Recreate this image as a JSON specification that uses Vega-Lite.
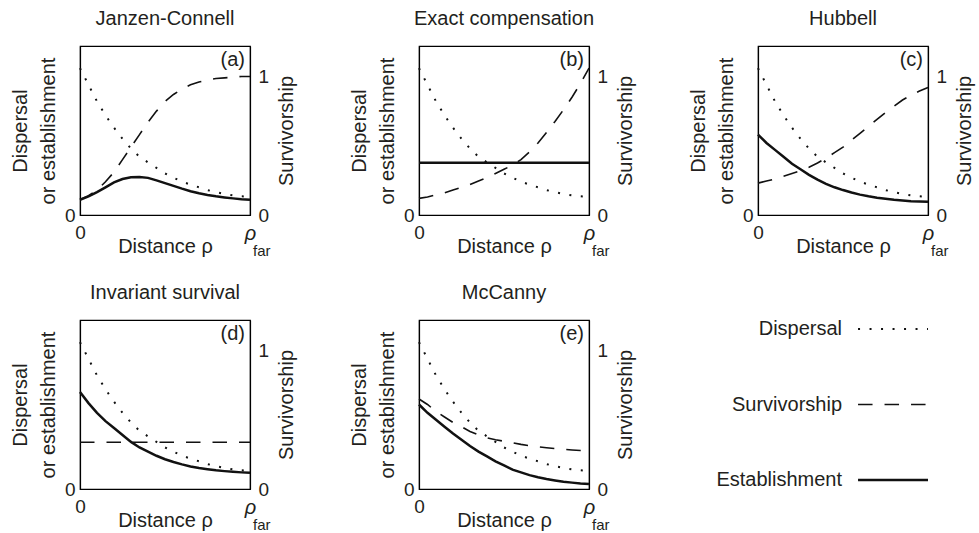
{
  "$schema": "https://vega.github.io/schema/vega-lite/v6.json",
  "background": "white",
  "padding": {"left": 9, "top": 8, "right": 0, "bottom": 0},
  "datasets": {
    "disp": [
      {"x": 0, "y": 1.06}, {"x": 0.05, "y": 0.94}, {"x": 0.1, "y": 0.82}, {"x": 0.15, "y": 0.72}, {"x": 0.2, "y": 0.63},
      {"x": 0.25, "y": 0.55}, {"x": 0.3, "y": 0.48}, {"x": 0.35, "y": 0.42}, {"x": 0.4, "y": 0.38}, {"x": 0.45, "y": 0.34},
      {"x": 0.5, "y": 0.30}, {"x": 0.55, "y": 0.27}, {"x": 0.6, "y": 0.24}, {"x": 0.65, "y": 0.22}, {"x": 0.7, "y": 0.20},
      {"x": 0.75, "y": 0.18}, {"x": 0.8, "y": 0.165}, {"x": 0.85, "y": 0.152}, {"x": 0.9, "y": 0.142}, {"x": 0.95, "y": 0.135},
      {"x": 1, "y": 0.13}
    ],
    "curves": [
      {"p": "a", "s": "S", "x": 0, "y": 0.11}, {"p": "a", "s": "S", "x": 0.05, "y": 0.14}, {"p": "a", "s": "S", "x": 0.1, "y": 0.18},
      {"p": "a", "s": "S", "x": 0.15, "y": 0.24}, {"p": "a", "s": "S", "x": 0.2, "y": 0.31}, {"p": "a", "s": "S", "x": 0.25, "y": 0.40},
      {"p": "a", "s": "S", "x": 0.3, "y": 0.49}, {"p": "a", "s": "S", "x": 0.35, "y": 0.58}, {"p": "a", "s": "S", "x": 0.4, "y": 0.67},
      {"p": "a", "s": "S", "x": 0.45, "y": 0.75}, {"p": "a", "s": "S", "x": 0.5, "y": 0.82}, {"p": "a", "s": "S", "x": 0.55, "y": 0.87},
      {"p": "a", "s": "S", "x": 0.6, "y": 0.91}, {"p": "a", "s": "S", "x": 0.65, "y": 0.94}, {"p": "a", "s": "S", "x": 0.7, "y": 0.96},
      {"p": "a", "s": "S", "x": 0.75, "y": 0.975}, {"p": "a", "s": "S", "x": 0.8, "y": 0.985}, {"p": "a", "s": "S", "x": 0.85, "y": 0.99},
      {"p": "a", "s": "S", "x": 0.9, "y": 0.995}, {"p": "a", "s": "S", "x": 0.95, "y": 1.0}, {"p": "a", "s": "S", "x": 1, "y": 1.0},
      {"p": "a", "s": "E", "x": 0, "y": 0.11}, {"p": "a", "s": "E", "x": 0.05, "y": 0.135}, {"p": "a", "s": "E", "x": 0.1, "y": 0.165},
      {"p": "a", "s": "E", "x": 0.15, "y": 0.2}, {"p": "a", "s": "E", "x": 0.2, "y": 0.235}, {"p": "a", "s": "E", "x": 0.25, "y": 0.26},
      {"p": "a", "s": "E", "x": 0.3, "y": 0.272}, {"p": "a", "s": "E", "x": 0.35, "y": 0.275}, {"p": "a", "s": "E", "x": 0.4, "y": 0.268},
      {"p": "a", "s": "E", "x": 0.45, "y": 0.25}, {"p": "a", "s": "E", "x": 0.5, "y": 0.23}, {"p": "a", "s": "E", "x": 0.55, "y": 0.21},
      {"p": "a", "s": "E", "x": 0.6, "y": 0.19}, {"p": "a", "s": "E", "x": 0.65, "y": 0.172}, {"p": "a", "s": "E", "x": 0.7, "y": 0.157},
      {"p": "a", "s": "E", "x": 0.75, "y": 0.145}, {"p": "a", "s": "E", "x": 0.8, "y": 0.135}, {"p": "a", "s": "E", "x": 0.85, "y": 0.127},
      {"p": "a", "s": "E", "x": 0.9, "y": 0.12}, {"p": "a", "s": "E", "x": 0.95, "y": 0.114}, {"p": "a", "s": "E", "x": 1, "y": 0.11},

      {"p": "b", "s": "S", "x": 0, "y": 0.12}, {"p": "b", "s": "S", "x": 0.05, "y": 0.13}, {"p": "b", "s": "S", "x": 0.1, "y": 0.145},
      {"p": "b", "s": "S", "x": 0.15, "y": 0.16}, {"p": "b", "s": "S", "x": 0.2, "y": 0.18}, {"p": "b", "s": "S", "x": 0.25, "y": 0.2},
      {"p": "b", "s": "S", "x": 0.3, "y": 0.22}, {"p": "b", "s": "S", "x": 0.35, "y": 0.245}, {"p": "b", "s": "S", "x": 0.4, "y": 0.27},
      {"p": "b", "s": "S", "x": 0.45, "y": 0.3}, {"p": "b", "s": "S", "x": 0.5, "y": 0.33}, {"p": "b", "s": "S", "x": 0.55, "y": 0.36},
      {"p": "b", "s": "S", "x": 0.6, "y": 0.4}, {"p": "b", "s": "S", "x": 0.65, "y": 0.455}, {"p": "b", "s": "S", "x": 0.7, "y": 0.52},
      {"p": "b", "s": "S", "x": 0.75, "y": 0.595}, {"p": "b", "s": "S", "x": 0.8, "y": 0.675}, {"p": "b", "s": "S", "x": 0.85, "y": 0.76},
      {"p": "b", "s": "S", "x": 0.9, "y": 0.85}, {"p": "b", "s": "S", "x": 0.95, "y": 0.95}, {"p": "b", "s": "S", "x": 1, "y": 1.06},
      {"p": "b", "s": "E", "x": 0, "y": 0.377}, {"p": "b", "s": "E", "x": 1, "y": 0.377},

      {"p": "c", "s": "S", "x": 0, "y": 0.23}, {"p": "c", "s": "S", "x": 0.05, "y": 0.245}, {"p": "c", "s": "S", "x": 0.1, "y": 0.26},
      {"p": "c", "s": "S", "x": 0.15, "y": 0.28}, {"p": "c", "s": "S", "x": 0.2, "y": 0.30}, {"p": "c", "s": "S", "x": 0.25, "y": 0.32},
      {"p": "c", "s": "S", "x": 0.3, "y": 0.345}, {"p": "c", "s": "S", "x": 0.35, "y": 0.375}, {"p": "c", "s": "S", "x": 0.4, "y": 0.41},
      {"p": "c", "s": "S", "x": 0.45, "y": 0.45}, {"p": "c", "s": "S", "x": 0.5, "y": 0.49}, {"p": "c", "s": "S", "x": 0.55, "y": 0.54},
      {"p": "c", "s": "S", "x": 0.6, "y": 0.59}, {"p": "c", "s": "S", "x": 0.65, "y": 0.64}, {"p": "c", "s": "S", "x": 0.7, "y": 0.69},
      {"p": "c", "s": "S", "x": 0.75, "y": 0.74}, {"p": "c", "s": "S", "x": 0.8, "y": 0.785}, {"p": "c", "s": "S", "x": 0.85, "y": 0.83},
      {"p": "c", "s": "S", "x": 0.9, "y": 0.865}, {"p": "c", "s": "S", "x": 0.95, "y": 0.895}, {"p": "c", "s": "S", "x": 1, "y": 0.92},
      {"p": "c", "s": "E", "x": 0, "y": 0.58}, {"p": "c", "s": "E", "x": 0.05, "y": 0.52}, {"p": "c", "s": "E", "x": 0.1, "y": 0.47},
      {"p": "c", "s": "E", "x": 0.15, "y": 0.42}, {"p": "c", "s": "E", "x": 0.2, "y": 0.37}, {"p": "c", "s": "E", "x": 0.25, "y": 0.33},
      {"p": "c", "s": "E", "x": 0.3, "y": 0.29}, {"p": "c", "s": "E", "x": 0.35, "y": 0.255}, {"p": "c", "s": "E", "x": 0.4, "y": 0.225},
      {"p": "c", "s": "E", "x": 0.45, "y": 0.2}, {"p": "c", "s": "E", "x": 0.5, "y": 0.18}, {"p": "c", "s": "E", "x": 0.55, "y": 0.162},
      {"p": "c", "s": "E", "x": 0.6, "y": 0.147}, {"p": "c", "s": "E", "x": 0.65, "y": 0.135}, {"p": "c", "s": "E", "x": 0.7, "y": 0.125},
      {"p": "c", "s": "E", "x": 0.75, "y": 0.117}, {"p": "c", "s": "E", "x": 0.8, "y": 0.11}, {"p": "c", "s": "E", "x": 0.85, "y": 0.105},
      {"p": "c", "s": "E", "x": 0.9, "y": 0.1}, {"p": "c", "s": "E", "x": 0.95, "y": 0.098}, {"p": "c", "s": "E", "x": 1, "y": 0.096},

      {"p": "d", "s": "S", "x": 0, "y": 0.338}, {"p": "d", "s": "S", "x": 1, "y": 0.338},
      {"p": "d", "s": "E", "x": 0, "y": 0.70}, {"p": "d", "s": "E", "x": 0.05, "y": 0.62}, {"p": "d", "s": "E", "x": 0.1, "y": 0.55},
      {"p": "d", "s": "E", "x": 0.15, "y": 0.49}, {"p": "d", "s": "E", "x": 0.2, "y": 0.44}, {"p": "d", "s": "E", "x": 0.25, "y": 0.39},
      {"p": "d", "s": "E", "x": 0.3, "y": 0.34}, {"p": "d", "s": "E", "x": 0.35, "y": 0.30}, {"p": "d", "s": "E", "x": 0.4, "y": 0.27},
      {"p": "d", "s": "E", "x": 0.45, "y": 0.24}, {"p": "d", "s": "E", "x": 0.5, "y": 0.215}, {"p": "d", "s": "E", "x": 0.55, "y": 0.195},
      {"p": "d", "s": "E", "x": 0.6, "y": 0.178}, {"p": "d", "s": "E", "x": 0.65, "y": 0.163}, {"p": "d", "s": "E", "x": 0.7, "y": 0.152},
      {"p": "d", "s": "E", "x": 0.75, "y": 0.143}, {"p": "d", "s": "E", "x": 0.8, "y": 0.135}, {"p": "d", "s": "E", "x": 0.85, "y": 0.129},
      {"p": "d", "s": "E", "x": 0.9, "y": 0.124}, {"p": "d", "s": "E", "x": 0.95, "y": 0.12}, {"p": "d", "s": "E", "x": 1, "y": 0.117},

      {"p": "e", "s": "S", "x": 0, "y": 0.65}, {"p": "e", "s": "S", "x": 0.05, "y": 0.61}, {"p": "e", "s": "S", "x": 0.1, "y": 0.56},
      {"p": "e", "s": "S", "x": 0.15, "y": 0.52}, {"p": "e", "s": "S", "x": 0.2, "y": 0.48}, {"p": "e", "s": "S", "x": 0.25, "y": 0.45},
      {"p": "e", "s": "S", "x": 0.3, "y": 0.415}, {"p": "e", "s": "S", "x": 0.35, "y": 0.39}, {"p": "e", "s": "S", "x": 0.4, "y": 0.37},
      {"p": "e", "s": "S", "x": 0.45, "y": 0.355}, {"p": "e", "s": "S", "x": 0.5, "y": 0.345}, {"p": "e", "s": "S", "x": 0.55, "y": 0.333},
      {"p": "e", "s": "S", "x": 0.6, "y": 0.322}, {"p": "e", "s": "S", "x": 0.65, "y": 0.313}, {"p": "e", "s": "S", "x": 0.7, "y": 0.305},
      {"p": "e", "s": "S", "x": 0.75, "y": 0.298}, {"p": "e", "s": "S", "x": 0.8, "y": 0.292}, {"p": "e", "s": "S", "x": 0.85, "y": 0.287},
      {"p": "e", "s": "S", "x": 0.9, "y": 0.282}, {"p": "e", "s": "S", "x": 0.95, "y": 0.278}, {"p": "e", "s": "S", "x": 1, "y": 0.275},
      {"p": "e", "s": "E", "x": 0, "y": 0.61}, {"p": "e", "s": "E", "x": 0.05, "y": 0.55}, {"p": "e", "s": "E", "x": 0.1, "y": 0.50},
      {"p": "e", "s": "E", "x": 0.15, "y": 0.45}, {"p": "e", "s": "E", "x": 0.2, "y": 0.40}, {"p": "e", "s": "E", "x": 0.25, "y": 0.355},
      {"p": "e", "s": "E", "x": 0.3, "y": 0.31}, {"p": "e", "s": "E", "x": 0.35, "y": 0.27}, {"p": "e", "s": "E", "x": 0.4, "y": 0.235},
      {"p": "e", "s": "E", "x": 0.45, "y": 0.2}, {"p": "e", "s": "E", "x": 0.5, "y": 0.17}, {"p": "e", "s": "E", "x": 0.55, "y": 0.14},
      {"p": "e", "s": "E", "x": 0.6, "y": 0.12}, {"p": "e", "s": "E", "x": 0.65, "y": 0.1}, {"p": "e", "s": "E", "x": 0.7, "y": 0.085},
      {"p": "e", "s": "E", "x": 0.75, "y": 0.072}, {"p": "e", "s": "E", "x": 0.8, "y": 0.062}, {"p": "e", "s": "E", "x": 0.85, "y": 0.053},
      {"p": "e", "s": "E", "x": 0.9, "y": 0.046}, {"p": "e", "s": "E", "x": 0.95, "y": 0.04}, {"p": "e", "s": "E", "x": 1, "y": 0.036}
    ],
    "legend": [
      {"s": "Dispersal", "row": 0, "t": 0}, {"s": "Dispersal", "row": 0, "t": 1},
      {"s": "Survivorship", "row": 1, "t": 0}, {"s": "Survivorship", "row": 1, "t": 1},
      {"s": "Establishment", "row": 2, "t": 0}, {"s": "Establishment", "row": 2, "t": 1}
    ]
  },
  "columns": 3,
  "spacing": {"row": 105, "column": 169},
  "bounds": "flush",
  "concat": [
    {
      "width": 170, "height": 169, "title": "Janzen-Connell",
      "resolve": {"scale": {"y": "independent"}},
      "layer": [
        {"data": {"name": "disp"}, "mark": {"type": "line", "strokeDash": [2, 9.5], "strokeWidth": 2, "color": "#111"},
         "encoding": {
           "x": {"field": "x", "type": "quantitative", "scale": {"domain": [0, 1], "nice": false, "zero": false},
                 "axis": {"values": [0, 1], "labelExpr": "datum.value == 0 ? '0' : 'ρ'", "title": "Distance ρ",
                          "labelFontStyle": {"condition": {"test": "datum.value == 1", "value": "italic"}, "value": "normal"},
                          "labelFontSize": {"condition": {"test": "datum.value == 1", "value": 20}, "value": 19}}},
           "y": {"field": "y", "type": "quantitative", "scale": {"domain": [0, 1.22], "nice": false},
                 "axis": {"values": [0], "title": ["Dispersal", "or establishment"]}}}},
        {"data": {"name": "curves"}, "transform": [{"filter": "datum.p == 'a' && datum.s == 'E'"}],
         "mark": {"type": "line", "strokeWidth": 2.5, "color": "#111"},
         "encoding": {"x": {"field": "x", "type": "quantitative"},
                      "y": {"field": "y", "type": "quantitative", "scale": {"domain": [0, 1.22], "nice": false}, "axis": null}}},
        {"data": {"name": "curves"}, "transform": [{"filter": "datum.p == 'a' && datum.s == 'S'"}],
         "mark": {"type": "line", "strokeDash": [14.5, 12], "strokeWidth": 1.6, "color": "#111"},
         "encoding": {"x": {"field": "x", "type": "quantitative"},
                      "y": {"field": "y", "type": "quantitative", "scale": {"domain": [0, 1.22], "nice": false},
                            "axis": {"orient": "right", "values": [0, 1], "format": "d", "title": "Survivorship", "titleAngle": 270, "titleBaseline": "top"}}}},
        {"data": {"values": [{"label": "(a)"}]},
         "mark": {"type": "text", "align": "right", "baseline": "top", "dx": -5, "dy": 4, "fontSize": 20, "color": "#231f20"},
         "encoding": {"x": {"datum": 1, "type": "quantitative"},
                      "y": {"datum": 1.22, "type": "quantitative", "scale": {"domain": [0, 1.22], "nice": false}, "axis": null},
                      "text": {"field": "label"}}},
        {"data": {"values": [{"label": "far"}]},
         "mark": {"type": "text", "align": "left", "baseline": "alphabetic", "dx": 3, "dy": 41, "fontSize": 15, "color": "#231f20"},
         "encoding": {"x": {"datum": 1, "type": "quantitative"},
                      "y": {"datum": 0, "type": "quantitative", "scale": {"domain": [0, 1.22], "nice": false}, "axis": null},
                      "text": {"field": "label"}}}
      ]
    },
    {
      "width": 170, "height": 169, "title": "Exact compensation",
      "resolve": {"scale": {"y": "independent"}},
      "layer": [
        {"data": {"name": "disp"}, "mark": {"type": "line", "strokeDash": [2, 9.5], "strokeWidth": 2, "color": "#111"},
         "encoding": {
           "x": {"field": "x", "type": "quantitative", "scale": {"domain": [0, 1], "nice": false, "zero": false},
                 "axis": {"values": [0, 1], "labelExpr": "datum.value == 0 ? '0' : 'ρ'", "title": "Distance ρ",
                          "labelFontStyle": {"condition": {"test": "datum.value == 1", "value": "italic"}, "value": "normal"},
                          "labelFontSize": {"condition": {"test": "datum.value == 1", "value": 20}, "value": 19}}},
           "y": {"field": "y", "type": "quantitative", "scale": {"domain": [0, 1.22], "nice": false},
                 "axis": {"values": [0], "title": ["Dispersal", "or establishment"]}}}},
        {"data": {"name": "curves"}, "transform": [{"filter": "datum.p == 'b' && datum.s == 'E'"}],
         "mark": {"type": "line", "strokeWidth": 2.5, "color": "#111"},
         "encoding": {"x": {"field": "x", "type": "quantitative"},
                      "y": {"field": "y", "type": "quantitative", "scale": {"domain": [0, 1.22], "nice": false}, "axis": null}}},
        {"data": {"name": "curves"}, "transform": [{"filter": "datum.p == 'b' && datum.s == 'S'"}],
         "mark": {"type": "line", "strokeDash": [14.5, 12], "strokeWidth": 1.6, "color": "#111"},
         "encoding": {"x": {"field": "x", "type": "quantitative"},
                      "y": {"field": "y", "type": "quantitative", "scale": {"domain": [0, 1.22], "nice": false},
                            "axis": {"orient": "right", "values": [0, 1], "format": "d", "title": "Survivorship", "titleAngle": 270, "titleBaseline": "top"}}}},
        {"data": {"values": [{"label": "(b)"}]},
         "mark": {"type": "text", "align": "right", "baseline": "top", "dx": -5, "dy": 4, "fontSize": 20, "color": "#231f20"},
         "encoding": {"x": {"datum": 1, "type": "quantitative"},
                      "y": {"datum": 1.22, "type": "quantitative", "scale": {"domain": [0, 1.22], "nice": false}, "axis": null},
                      "text": {"field": "label"}}},
        {"data": {"values": [{"label": "far"}]},
         "mark": {"type": "text", "align": "left", "baseline": "alphabetic", "dx": 3, "dy": 41, "fontSize": 15, "color": "#231f20"},
         "encoding": {"x": {"datum": 1, "type": "quantitative"},
                      "y": {"datum": 0, "type": "quantitative", "scale": {"domain": [0, 1.22], "nice": false}, "axis": null},
                      "text": {"field": "label"}}}
      ]
    },
    {
      "width": 170, "height": 169, "title": "Hubbell",
      "resolve": {"scale": {"y": "independent"}},
      "layer": [
        {"data": {"name": "disp"}, "mark": {"type": "line", "strokeDash": [2, 9.5], "strokeWidth": 2, "color": "#111"},
         "encoding": {
           "x": {"field": "x", "type": "quantitative", "scale": {"domain": [0, 1], "nice": false, "zero": false},
                 "axis": {"values": [0, 1], "labelExpr": "datum.value == 0 ? '0' : 'ρ'", "title": "Distance ρ",
                          "labelFontStyle": {"condition": {"test": "datum.value == 1", "value": "italic"}, "value": "normal"},
                          "labelFontSize": {"condition": {"test": "datum.value == 1", "value": 20}, "value": 19}}},
           "y": {"field": "y", "type": "quantitative", "scale": {"domain": [0, 1.22], "nice": false},
                 "axis": {"values": [0], "title": ["Dispersal", "or establishment"]}}}},
        {"data": {"name": "curves"}, "transform": [{"filter": "datum.p == 'c' && datum.s == 'E'"}],
         "mark": {"type": "line", "strokeWidth": 2.5, "color": "#111"},
         "encoding": {"x": {"field": "x", "type": "quantitative"},
                      "y": {"field": "y", "type": "quantitative", "scale": {"domain": [0, 1.22], "nice": false}, "axis": null}}},
        {"data": {"name": "curves"}, "transform": [{"filter": "datum.p == 'c' && datum.s == 'S'"}],
         "mark": {"type": "line", "strokeDash": [14.5, 12], "strokeWidth": 1.6, "color": "#111"},
         "encoding": {"x": {"field": "x", "type": "quantitative"},
                      "y": {"field": "y", "type": "quantitative", "scale": {"domain": [0, 1.22], "nice": false},
                            "axis": {"orient": "right", "values": [0, 1], "format": "d", "title": "Survivorship", "titleAngle": 270, "titleBaseline": "top"}}}},
        {"data": {"values": [{"label": "(c)"}]},
         "mark": {"type": "text", "align": "right", "baseline": "top", "dx": -5, "dy": 4, "fontSize": 20, "color": "#231f20"},
         "encoding": {"x": {"datum": 1, "type": "quantitative"},
                      "y": {"datum": 1.22, "type": "quantitative", "scale": {"domain": [0, 1.22], "nice": false}, "axis": null},
                      "text": {"field": "label"}}},
        {"data": {"values": [{"label": "far"}]},
         "mark": {"type": "text", "align": "left", "baseline": "alphabetic", "dx": 3, "dy": 41, "fontSize": 15, "color": "#231f20"},
         "encoding": {"x": {"datum": 1, "type": "quantitative"},
                      "y": {"datum": 0, "type": "quantitative", "scale": {"domain": [0, 1.22], "nice": false}, "axis": null},
                      "text": {"field": "label"}}}
      ]
    },
    {
      "width": 170, "height": 169, "title": "Invariant survival",
      "resolve": {"scale": {"y": "independent"}},
      "layer": [
        {"data": {"name": "disp"}, "mark": {"type": "line", "strokeDash": [2, 9.5], "strokeWidth": 2, "color": "#111"},
         "encoding": {
           "x": {"field": "x", "type": "quantitative", "scale": {"domain": [0, 1], "nice": false, "zero": false},
                 "axis": {"values": [0, 1], "labelExpr": "datum.value == 0 ? '0' : 'ρ'", "title": "Distance ρ",
                          "labelFontStyle": {"condition": {"test": "datum.value == 1", "value": "italic"}, "value": "normal"},
                          "labelFontSize": {"condition": {"test": "datum.value == 1", "value": 20}, "value": 19}}},
           "y": {"field": "y", "type": "quantitative", "scale": {"domain": [0, 1.22], "nice": false},
                 "axis": {"values": [0], "title": ["Dispersal", "or establishment"]}}}},
        {"data": {"name": "curves"}, "transform": [{"filter": "datum.p == 'd' && datum.s == 'E'"}],
         "mark": {"type": "line", "strokeWidth": 2.5, "color": "#111"},
         "encoding": {"x": {"field": "x", "type": "quantitative"},
                      "y": {"field": "y", "type": "quantitative", "scale": {"domain": [0, 1.22], "nice": false}, "axis": null}}},
        {"data": {"name": "curves"}, "transform": [{"filter": "datum.p == 'd' && datum.s == 'S'"}],
         "mark": {"type": "line", "strokeDash": [14.5, 12], "strokeWidth": 1.6, "color": "#111"},
         "encoding": {"x": {"field": "x", "type": "quantitative"},
                      "y": {"field": "y", "type": "quantitative", "scale": {"domain": [0, 1.22], "nice": false},
                            "axis": {"orient": "right", "values": [0, 1], "format": "d", "title": "Survivorship", "titleAngle": 270, "titleBaseline": "top"}}}},
        {"data": {"values": [{"label": "(d)"}]},
         "mark": {"type": "text", "align": "right", "baseline": "top", "dx": -5, "dy": 4, "fontSize": 20, "color": "#231f20"},
         "encoding": {"x": {"datum": 1, "type": "quantitative"},
                      "y": {"datum": 1.22, "type": "quantitative", "scale": {"domain": [0, 1.22], "nice": false}, "axis": null},
                      "text": {"field": "label"}}},
        {"data": {"values": [{"label": "far"}]},
         "mark": {"type": "text", "align": "left", "baseline": "alphabetic", "dx": 3, "dy": 41, "fontSize": 15, "color": "#231f20"},
         "encoding": {"x": {"datum": 1, "type": "quantitative"},
                      "y": {"datum": 0, "type": "quantitative", "scale": {"domain": [0, 1.22], "nice": false}, "axis": null},
                      "text": {"field": "label"}}}
      ]
    },
    {
      "width": 170, "height": 169, "title": "McCanny",
      "resolve": {"scale": {"y": "independent"}},
      "layer": [
        {"data": {"name": "disp"}, "mark": {"type": "line", "strokeDash": [2, 9.5], "strokeWidth": 2, "color": "#111"},
         "encoding": {
           "x": {"field": "x", "type": "quantitative", "scale": {"domain": [0, 1], "nice": false, "zero": false},
                 "axis": {"values": [0, 1], "labelExpr": "datum.value == 0 ? '0' : 'ρ'", "title": "Distance ρ",
                          "labelFontStyle": {"condition": {"test": "datum.value == 1", "value": "italic"}, "value": "normal"},
                          "labelFontSize": {"condition": {"test": "datum.value == 1", "value": 20}, "value": 19}}},
           "y": {"field": "y", "type": "quantitative", "scale": {"domain": [0, 1.22], "nice": false},
                 "axis": {"values": [0], "title": ["Dispersal", "or establishment"]}}}},
        {"data": {"name": "curves"}, "transform": [{"filter": "datum.p == 'e' && datum.s == 'E'"}],
         "mark": {"type": "line", "strokeWidth": 2.5, "color": "#111"},
         "encoding": {"x": {"field": "x", "type": "quantitative"},
                      "y": {"field": "y", "type": "quantitative", "scale": {"domain": [0, 1.22], "nice": false}, "axis": null}}},
        {"data": {"name": "curves"}, "transform": [{"filter": "datum.p == 'e' && datum.s == 'S'"}],
         "mark": {"type": "line", "strokeDash": [14.5, 12], "strokeWidth": 1.6, "color": "#111"},
         "encoding": {"x": {"field": "x", "type": "quantitative"},
                      "y": {"field": "y", "type": "quantitative", "scale": {"domain": [0, 1.22], "nice": false},
                            "axis": {"orient": "right", "values": [0, 1], "format": "d", "title": "Survivorship", "titleAngle": 270, "titleBaseline": "top"}}}},
        {"data": {"values": [{"label": "(e)"}]},
         "mark": {"type": "text", "align": "right", "baseline": "top", "dx": -5, "dy": 4, "fontSize": 20, "color": "#231f20"},
         "encoding": {"x": {"datum": 1, "type": "quantitative"},
                      "y": {"datum": 1.22, "type": "quantitative", "scale": {"domain": [0, 1.22], "nice": false}, "axis": null},
                      "text": {"field": "label"}}},
        {"data": {"values": [{"label": "far"}]},
         "mark": {"type": "text", "align": "left", "baseline": "alphabetic", "dx": 3, "dy": 41, "fontSize": 15, "color": "#231f20"},
         "encoding": {"x": {"datum": 1, "type": "quantitative"},
                      "y": {"datum": 0, "type": "quantitative", "scale": {"domain": [0, 1.22], "nice": false}, "axis": null},
                      "text": {"field": "label"}}}
      ]
    },
    {
      "width": 170, "height": 169,
      "view": {"stroke": null},
      "data": {"name": "legend"},
      "encoding": {
        "x": {"field": "t", "type": "quantitative", "scale": {"domain": [-1.43, 1], "nice": false, "zero": false}, "axis": null},
        "y": {"field": "row", "type": "quantitative", "scale": {"domain": [-0.119, 2.119], "nice": false, "zero": false, "reverse": true}, "axis": null}
      },
      "layer": [
        {"transform": [{"filter": "datum.s == 'Dispersal'"}],
         "mark": {"type": "line", "color": "#111", "strokeDash": [2, 9.5], "strokeWidth": 2}},
        {"transform": [{"filter": "datum.s == 'Survivorship'"}],
         "mark": {"type": "line", "color": "#111", "strokeDash": [14.5, 12], "strokeWidth": 1.6}},
        {"transform": [{"filter": "datum.s == 'Establishment'"}],
         "mark": {"type": "line", "color": "#111", "strokeWidth": 2.6}},
        {"transform": [{"filter": "datum.t == 0"}],
         "mark": {"type": "text", "align": "right", "baseline": "middle", "dx": -16, "fontSize": 20, "color": "#231f20"},
         "encoding": {"text": {"field": "s"}}}
      ]
    }
  ],
  "config": {
    "font": "Liberation Sans",
    "view": {"stroke": "#000", "strokeWidth": 1.2},
    "axis": {"domainColor": "#000", "domainWidth": 1.2, "ticks": false, "grid": false, "labelFontSize": 19, "titleFontSize": 20,
             "titleFontWeight": "normal", "labelColor": "#231f20", "titleColor": "#231f20", "labelFlush": false, "labelFont": "Liberation Sans", "titleFont": "Liberation Sans"},
    "axisLeft": {"labelPadding": 5, "titlePadding": 6, "titleLineHeight": 28},
    "axisRight": {"labelPadding": 8, "titlePadding": 8},
    "axisBottom": {"labelPadding": 8, "titlePadding": -7},
    "title": {"fontSize": 20, "fontWeight": "normal", "color": "#231f20", "offset": 17, "font": "Liberation Sans"}
  }
}
